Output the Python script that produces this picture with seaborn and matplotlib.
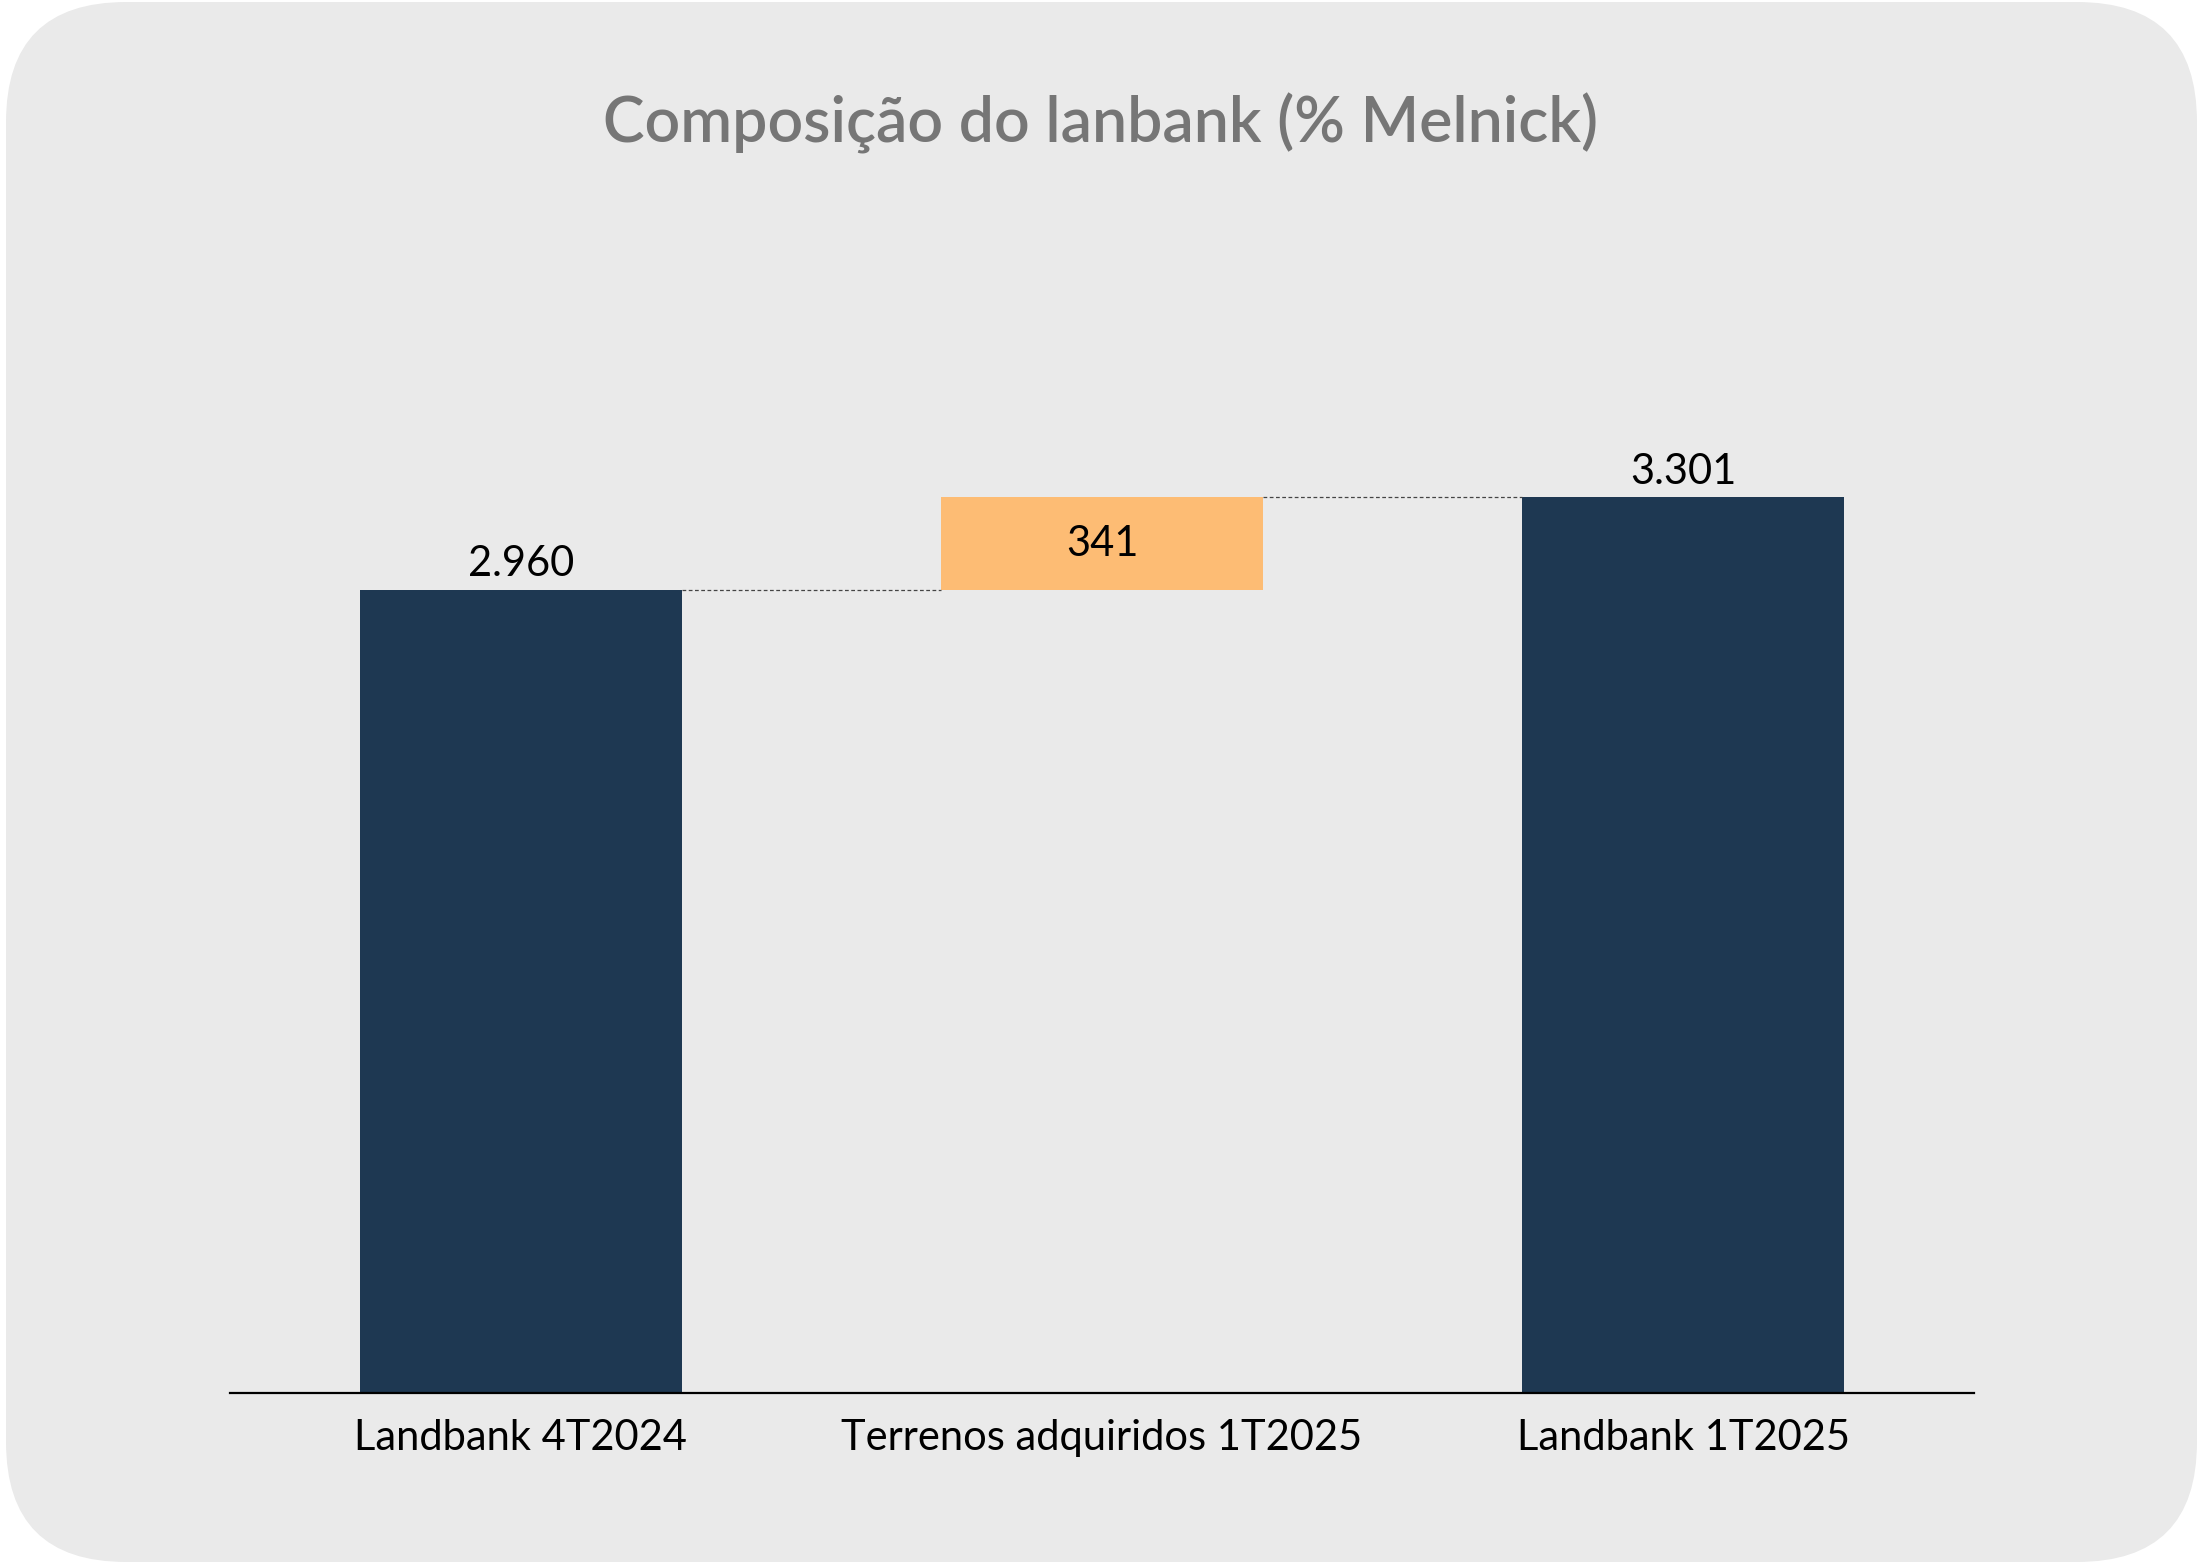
import matplotlib
matplotlib.use("Agg")
import matplotlib.pyplot as plt
from matplotlib.patches import FancyBboxPatch
import seaborn as sns
import pandas as pd

categories = ["Landbank 4T2024", "Terrenos adquiridos 1T2025", "Landbank 1T2025"]
values = [2960, 341, 3301]
bases = [0, 2960, 0]
value_labels = ["2.960", "341", "3.301"]
title = "Composição do lanbank (% Melnick)"

navy = "#1E3852"
orange = "#FDBC74"
bg = "#EAEAEA"
colors = [navy, orange, navy]

sns.set_theme(style="white")
plt.rcParams["font.family"] = ["Lato", "DejaVu Sans"]

W, H = 2197, 1564
fig = plt.figure(figsize=(W / 100, H / 100), dpi=100, facecolor="white")
bgpatch = FancyBboxPatch((6, 2), W - 6, H - 4,
                         boxstyle="round,pad=0,rounding_size=120",
                         transform=None, facecolor=bg, edgecolor="none", zorder=-10)
fig.patches.append(bgpatch)

ax = fig.add_axes([230 / W, (H - 1393) / H, 1744 / W, 1031 / H])
ax.set_facecolor("none")
ax.set_zorder(5)

df = pd.DataFrame({"cat": categories, "val": values, "base": bases})
sns.barplot(data=df, x="cat", y="val", color=navy, order=categories,
            width=0.554, bottom=df["base"].values, ax=ax, saturation=1,
            linewidth=0, errorbar=None)
for p, c in zip(ax.patches, colors):
    p.set_facecolor(c)

ax.set_xlim(-0.5, 2.5)
ax.set_ylim(0, 3800)
ax.set_xlabel("")
ax.set_ylabel("")
ax.set_yticks([])
for s in ["top", "right", "left"]:
    ax.spines[s].set_visible(False)
ax.spines["bottom"].set_color("black")
ax.spines["bottom"].set_linewidth(1.6)
ax.tick_params(axis="x", length=0, labelsize=30, pad=19, labelcolor="black")

# connectors
half = 0.554 / 2
tops = [b + v for b, v in zip(bases, values)]
ax.plot([0 + half, 1 - half], [tops[0], tops[0]], ls=(0, (3, 2)), lw=0.9, color="#444444")
ax.plot([1 + half, 2 - half], [tops[1], tops[1]], ls=(0, (3, 2)), lw=0.9, color="#444444")

# value labels
ax.text(0, tops[0] + 25, value_labels[0], ha="center", va="bottom", fontsize=30, color="black")
ax.text(1, bases[1] + values[1] / 2, value_labels[1], ha="center", va="center", fontsize=30, color="black")
ax.text(2, tops[2] + 25, value_labels[2], ha="center", va="bottom", fontsize=30, color="black")

fig.text(1101 / W, 1 - 123 / H, title, ha="center", va="center", fontsize=45,
         fontweight="semibold", color="#767676")

fig.savefig("out.png", dpi=100, facecolor="white")
